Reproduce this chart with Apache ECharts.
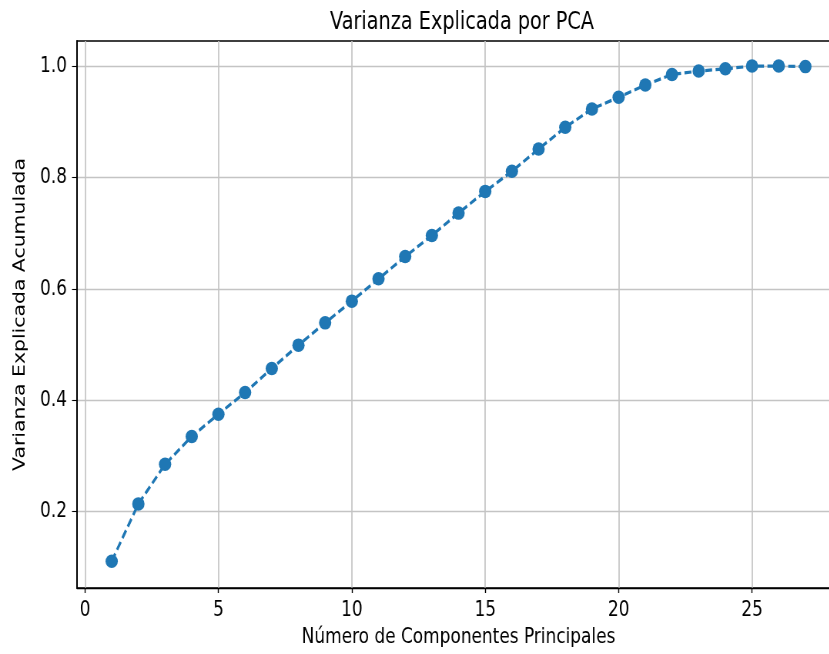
<!DOCTYPE html>
<html>
<head>
<meta charset="utf-8">
<script src="https://cdn.jsdelivr.net/npm/echarts@6/dist/echarts.min.js"></script>
<style>
  html, body { margin: 0; padding: 0; background: #ffffff; overflow: hidden; }
  #frame { width: 829px; height: 654px; overflow: hidden; position: relative; }
  /* the figure is laid out wide and squeezed horizontally */
  #chart { width: 1077px; height: 654px; transform: scaleX(0.77); transform-origin: 0 0; position: absolute; left: 0; top: 0; }
</style>
</head>
<body>
<div id="frame"><div id="chart"></div></div>
<script>
// Number of principal components kept
const components = [1, 2, 3, 4, 5, 6, 7, 8, 9, 10, 11, 12, 13, 14, 15, 16, 17, 18, 19, 20, 21, 22, 23, 24, 25, 26, 27];
// Cumulative explained variance ratio for each component count
const cumulativeVariance = [0.111, 0.214, 0.285, 0.335, 0.375, 0.414, 0.457, 0.499, 0.539, 0.578, 0.618, 0.658, 0.696, 0.736, 0.775, 0.811, 0.851, 0.890, 0.923, 0.944, 0.966, 0.985, 0.991, 0.995, 1.000, 1.000, 0.999];
// Tick positions
const xTicks = [0, 5, 10, 15, 20, 25];
const yTicks = [0.2, 0.4, 0.6, 0.8, 1.0];

const FONT = '"DejaVu Sans", sans-serif';
const GRID_COLOR = '#c4c4c4';
const chart = echarts.init(document.getElementById('chart'), null, { renderer: 'canvas' });

chart.setOption({
  animation: false,
  backgroundColor: '#ffffff',
  title: {
    text: 'Varianza Explicada por PCA',
    left: 595,
    textAlign: 'center',
    top: 5,
    textStyle: { fontFamily: FONT, fontSize: 25, fontWeight: 'normal', color: '#000' }
  },
  grid: {
    left: 100, top: 41, width: 991, height: 547,
    outerBoundsMode: 'none',
    show: true, borderColor: '#000', borderWidth: 1.4, backgroundColor: 'transparent'
  },
  xAxis: {
    type: 'value',
    min: -0.3, max: 28.3,
    name: 'Número de Componentes Principales',
    nameLocation: 'middle',
    nameGap: 37,
    nameTextStyle: { fontFamily: FONT, fontSize: 22, color: '#000' },
    axisLine: { show: true, onZero: false, lineStyle: { color: '#000', width: 1.4 } },
    axisTick: { show: true, length: 5, customValues: xTicks, lineStyle: { color: '#000', width: 1.4 } },
    axisLabel: { customValues: xTicks, margin: 11, fontFamily: FONT, fontSize: 22, color: '#000' },
    splitLine: { show: true, lineStyle: { color: GRID_COLOR, width: 1.7 } }
  },
  yAxis: {
    type: 'value',
    min: 0.063, max: 1.045,
    name: 'Varianza Explicada Acumulada',
    nameLocation: 'middle',
    nameGap: 63,
    nameTextStyle: { fontFamily: FONT, fontSize: 20.4, color: '#000' },
    axisLine: { show: true, onZero: false, lineStyle: { color: '#000', width: 2 } },
    axisTick: { show: true, length: 6.5, customValues: yTicks, lineStyle: { color: '#000', width: 1.1 } },
    axisLabel: {
      customValues: yTicks, margin: 13, fontFamily: FONT, fontSize: 22, color: '#000',
      formatter: v => v.toFixed(1)
    },
    splitLine: { show: true, lineStyle: { color: GRID_COLOR, width: 1.3 } }
  },
  series: [{
    type: 'line',
    data: components.map((c, i) => [c, cumulativeVariance[i]]),
    symbol: 'circle',
    symbolSize: [16, 13.5],
    itemStyle: { color: '#1f77b4' },
    lineStyle: { color: '#1f77b4', width: 3.2, type: [9, 4.5] },
    z: 5
  }]
});
</script>
</body>
</html>
